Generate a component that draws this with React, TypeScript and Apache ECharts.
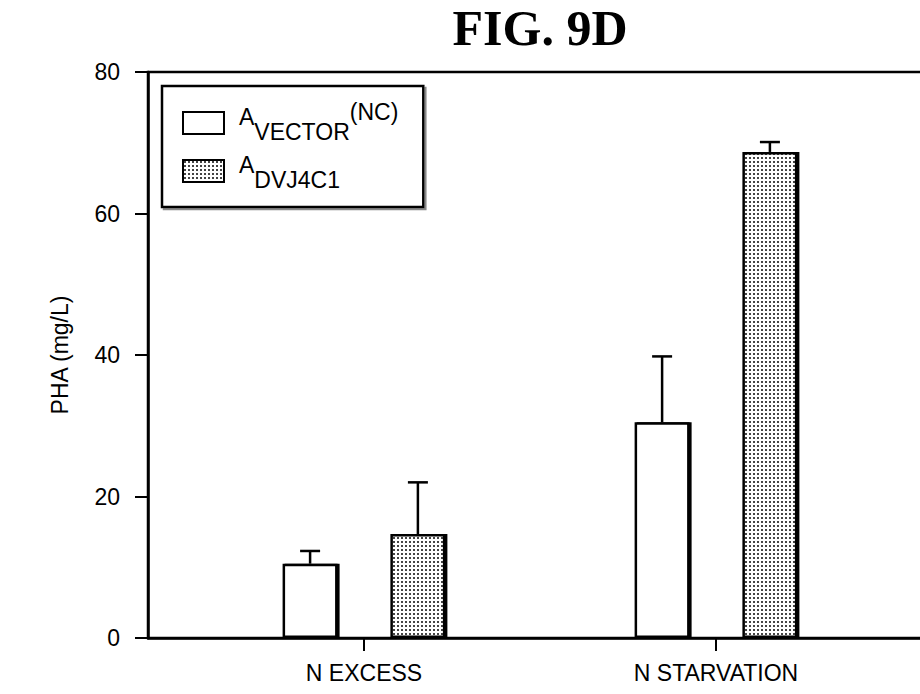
import React, { useEffect, useRef } from 'react';
import * as echarts from 'echarts';

// ---- data ----
const categories = ['N EXCESS', 'N STARVATION'];
const seriesNames = ['AVECTOR(NC)', 'ADVJ4C1'];
const legendParts = [
  ['A', 'VECTOR', '(NC)'],
  ['A', 'DVJ4C1', ''],
];
const vectorMeans = [10.5, 30.5];
const vectorErrors = [1.8, 9.3];
const dvjMeans = [14.7, 68.7];
const dvjErrors = [7.3, 1.4];
const yMin = 0;
const yMax = 80;
const yStep = 20;
const titleText = 'FIG. 9D';
const yName = 'PHA (mg/L)';

// ---- styling ----
const FONT = '"Liberation Sans", Arial, sans-serif';
const FS = 23;
const BAR_WIDTH = 55;
const BAR_GAP = 0.96;
const HALF_SPACING = (BAR_WIDTH * (1 + BAR_GAP)) / 2;
const X_PAD = 0.6136;
const LW = 2.5;

function makeDots(): string {
  const c = document.createElement('canvas');
  c.width = 4;
  c.height = 4;
  const ctx = c.getContext('2d')!;
  ctx.fillStyle = '#ffffff';
  ctx.fillRect(0, 0, 4, 4);
  ctx.fillStyle = '#444444';
  ctx.fillRect(1, 1, 2, 2);
  return c.toDataURL();
}

function errorSeries(means: number[], errs: number[], sign: number) {
  return {
    type: 'custom',
    silent: true,
    z: 5,
    data: means.map((m, i) => [i, m, m + errs[i]]),
    encode: { x: 0, y: [1, 2] },
    renderItem: (_params: any, api: any) => {
      const base = api.coord([api.value(0), api.value(1)]);
      const top = api.coord([api.value(0), api.value(2)]);
      const x = base[0] + sign * HALF_SPACING;
      const st = { stroke: '#000', lineWidth: LW };
      return {
        type: 'group',
        children: [
          { type: 'line', shape: { x1: x, y1: base[1], x2: x, y2: top[1] }, style: st },
          { type: 'line', shape: { x1: x - 10, y1: top[1], x2: x + 10, y2: top[1] }, style: st },
        ],
      };
    },
  };
}

export default function App() {
  const ref = useRef<HTMLDivElement>(null);
  useEffect(() => {
    if (!ref.current) return;
    const chart = echarts.init(ref.current, undefined, { renderer: 'svg' });
    const dots = makeDots();
    const barShadow = { shadowColor: '#000', shadowOffsetX: 2, shadowOffsetY: 0, shadowBlur: 0 };
    const txt = { fontFamily: FONT, fontSize: FS, color: '#000' };
    const option: any = {
      animation: false,
      backgroundColor: '#fff',
      title: {
        text: titleText,
        left: 535,
        top: -2,
        textAlign: 'center',
        textStyle: {
          fontFamily: '"Liberation Serif", "Times New Roman", serif',
          fontWeight: 'bold',
          fontSize: 50,
          color: '#000',
        },
      },
      grid: {
        left: 148,
        top: 72,
        width: 784,
        height: 566,
        show: true,
        borderColor: '#000',
        borderWidth: LW,
        containLabel: false,
        outerBoundsMode: 'none',
      },
      legend: {
        data: seriesNames,
        orient: 'vertical',
        left: 162,
        top: 86,
        icon: 'rect',
        itemWidth: 41,
        itemHeight: 22,
        itemGap: 10,
        padding: [14, 25, 16, 20],
        borderColor: '#000',
        borderWidth: LW,
        backgroundColor: '#fff',
        shadowColor: '#888',
        shadowOffsetX: 2,
        shadowOffsetY: 2,
        shadowBlur: 0,
        selectedMode: false,
        formatter: (name: string) => {
          const idx = seriesNames.indexOf(name);
          const p = legendParts[idx];
          return `{a|${p[0]}}{s|${p[1]}}` + (p[2] ? `{p|${p[2]}}` : '');
        },
        textStyle: {
          ...txt,
          rich: {
            a: { ...txt, verticalAlign: 'top', padding: [5, 0, 0, 10] },
            s: { ...txt, verticalAlign: 'top', padding: [20, 0, 3, 0] },
            p: { ...txt, verticalAlign: 'top' },
          },
        },
      },
      xAxis: {
        type: 'value',
        min: -X_PAD,
        max: 1 + X_PAD,
        splitLine: { show: false },
        axisLine: { show: true, onZero: false, lineStyle: { color: '#000', width: LW } },
        axisTick: { show: true, customValues: [0, 1], length: 13, lineStyle: { color: '#000', width: 2 } },
        axisLabel: {
          customValues: [0, 1],
          formatter: (v: number) => categories[Math.round(v)] ?? '',
          margin: 23,
          ...txt,
        },
      },
      yAxis: {
        type: 'value',
        min: yMin,
        max: yMax,
        interval: yStep,
        name: yName,
        nameLocation: 'middle',
        nameGap: 77,
        nameTextStyle: txt,
        splitLine: { show: false },
        axisLine: { show: true, onZero: false, lineStyle: { color: '#000', width: LW } },
        axisTick: { show: true, length: 13, lineStyle: { color: '#000', width: 2 } },
        axisLabel: { margin: 28, ...txt },
      },
      series: [
        {
          type: 'bar',
          name: seriesNames[0],
          data: vectorMeans.map((v, i) => [i, v]),
          barWidth: BAR_WIDTH,
          barGap: `${BAR_GAP * 100}%`,
          itemStyle: { color: '#fff', borderColor: '#000', borderWidth: LW, ...barShadow },
          emphasis: { disabled: true },
        },
        {
          type: 'bar',
          name: seriesNames[1],
          data: dvjMeans.map((v, i) => [i, v]),
          barWidth: BAR_WIDTH,
          barGap: `${BAR_GAP * 100}%`,
          itemStyle: {
            color: { image: dots, repeat: 'repeat' },
            borderColor: '#000',
            borderWidth: LW,
            ...barShadow,
          },
          emphasis: { disabled: true },
        },
        errorSeries(vectorMeans, vectorErrors, -1),
        errorSeries(dvjMeans, dvjErrors, 1),
      ],
    };
    chart.setOption(option);
    return () => chart.dispose();
  }, []);
  return (
    <div
      ref={ref}
      style={{ position: 'fixed', left: 0, top: 0, width: 920, height: 694, background: '#fff' }}
    />
  );
}
